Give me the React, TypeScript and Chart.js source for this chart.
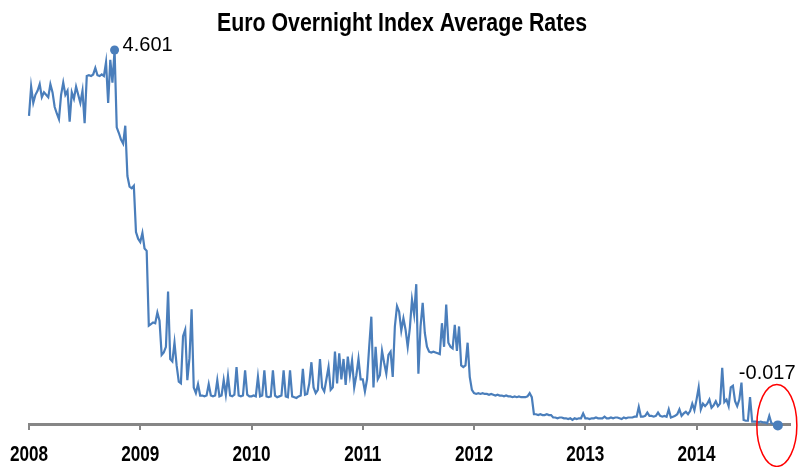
import React, { useEffect, useRef } from "react";
import { Chart, registerables } from "chart.js";

Chart.register(...registerables);

// Weekly readings of EONIA (%), one array per calendar year
const rates2008 = [
  3.79, 4.15, 3.95, 4.05, 4.10, 4.18, 4.02, 4.08, 4.05, 4.02,
  4.18, 4.08, 3.90, 3.82, 3.75, 4.05, 4.20, 4.05, 4.10, 3.72,
  4.08, 4.00, 4.15, 4.05, 3.95, 4.10, 3.70, 4.28, 4.29, 4.28,
  4.30, 4.38, 4.29, 4.28, 4.30, 4.28, 4.45, 3.95, 4.48, 4.20,
  4.601, 3.65, 3.58, 3.50, 3.45, 3.67, 3.05, 2.92, 2.90, 2.93,
  2.36, 2.28,
];
const rates2009 = [
  2.24, 2.35, 2.16, 2.13, 1.21, 1.23, 1.25, 1.24, 1.37, 1.27,
  0.85, 0.88, 0.95, 1.63, 0.80, 0.77, 1.00, 0.72, 0.52, 0.50,
  1.08, 1.16, 0.54, 0.81, 1.41, 0.45, 0.38, 0.49, 0.35, 0.35,
  0.34, 0.35, 0.49, 0.35, 0.34, 0.35, 0.54, 0.34, 0.35, 0.54,
  0.36, 0.59, 0.35, 0.34, 0.36, 0.70, 0.35, 0.34, 0.35, 0.66,
  0.36, 0.34,
];
const rates2010 = [
  0.34, 0.35, 0.34, 0.58, 0.34, 0.35, 0.66, 0.34, 0.33, 0.34,
  0.66, 0.35, 0.33, 0.34, 0.35, 0.66, 0.34, 0.33, 0.66, 0.34,
  0.33, 0.32, 0.34, 0.35, 0.68, 0.36, 0.37, 0.50, 0.76, 0.45,
  0.38, 0.42, 0.80, 0.45, 0.40, 0.55, 0.70, 0.42, 0.45, 0.89,
  0.50, 0.87, 0.55, 0.80, 0.48, 0.83, 0.60, 0.78, 0.45, 0.60,
  0.80, 0.55,
];
const rates2011 = [
  0.55, 0.40, 0.55, 0.95, 1.32, 0.45, 0.95, 0.55, 0.60, 0.90,
  0.75, 0.62, 0.85, 0.89, 0.58, 1.20, 1.45, 1.38, 1.15, 1.30,
  1.16, 0.95, 1.18, 1.53, 1.35, 1.72, 0.62, 1.20, 1.49, 1.12,
  0.95, 0.89, 0.88, 0.89, 0.88, 0.87, 0.86, 1.24, 0.95, 1.47,
  1.00, 0.95, 0.93, 1.22, 0.90, 1.20, 0.72, 0.70, 0.72, 1.00,
  0.58, 0.42,
];
const rates2012 = [
  0.38, 0.37, 0.38, 0.37, 0.38, 0.37, 0.37, 0.36, 0.37, 0.36,
  0.35, 0.36, 0.35, 0.35, 0.34, 0.35, 0.34, 0.34, 0.33, 0.34,
  0.33, 0.34, 0.33, 0.33, 0.33, 0.34, 0.38, 0.33, 0.12, 0.12,
  0.11, 0.12, 0.11, 0.11, 0.12, 0.11, 0.11, 0.08, 0.08, 0.07,
  0.08, 0.08, 0.07, 0.07, 0.06, 0.07, 0.05, 0.07, 0.06, 0.07,
  0.07, 0.13,
];
const rates2013 = [
  0.07, 0.07, 0.06, 0.07, 0.07, 0.08, 0.07, 0.07, 0.07, 0.09,
  0.07, 0.07, 0.08, 0.07, 0.08, 0.08, 0.07, 0.06, 0.08, 0.07,
  0.08, 0.08, 0.08, 0.09, 0.09, 0.21, 0.09, 0.09, 0.10, 0.14,
  0.10, 0.10, 0.09, 0.10, 0.14, 0.10, 0.09, 0.10, 0.09, 0.18,
  0.08, 0.09, 0.10, 0.12, 0.18, 0.10, 0.13, 0.15, 0.12, 0.16,
  0.25, 0.17,
];
const rates2014 = [
  0.30, 0.45, 0.18, 0.25, 0.22, 0.25, 0.30, 0.20, 0.23, 0.28,
  0.22, 0.25, 0.69, 0.27, 0.30, 0.22, 0.45, 0.47, 0.28, 0.22,
  0.30, 0.51, 0.05, 0.04, 0.04, 0.33, 0.03, 0.03, 0.03, 0.02,
  0.03, 0.02, 0.02, 0.01, 0.10, 0.01, 0.00, -0.005, -0.017,
];

const years = [2008, 2009, 2010, 2011, 2012, 2013, 2014];
const yearLabels = ["2008", "2009", "2010", "2011", "2012", "2013", "2014"];
const yearlyRates = [rates2008, rates2009, rates2010, rates2011, rates2012, rates2013, rates2014];
const WEEKS_PER_YEAR = 52;
const xMin = 2008;
const xMax = 2014.84;
const yMin = 0;
const yMax = 4.601;

const titleText = "Euro Overnight Index Average Rates";
const lineColor = "#4a7ebb";
const axisColor = "#868686";
const NARROW = 0.82; // horizontal compression to mimic a narrow face

export default function App() {
  const canvasRef = useRef<HTMLCanvasElement | null>(null);

  useEffect(() => {
    document.body.style.margin = "0";
    const points = yearlyRates.flatMap((arr, k) =>
      arr.map((v, i) => ({ x: years[k] + i / WEEKS_PER_YEAR, y: v }))
    );
    let maxIdx = 0;
    points.forEach((p, i) => {
      if (p.y > points[maxIdx].y) maxIdx = i;
    });
    const lastIdx = points.length - 1;

    const annotPlugin = {
      id: "annot",
      afterDraw(chart: any) {
        const ctx = chart.ctx;
        const meta = chart.getDatasetMeta(0);
        const pk = meta.data[maxIdx];
        const last = meta.data[lastIdx];
        const xs = chart.scales.x;
        ctx.save();
        ctx.fillStyle = "#000";

        // title (narrow bold)
        ctx.save();
        ctx.font = 'bold 26px "Liberation Sans", Arial, sans-serif';
        ctx.textAlign = "center";
        ctx.textBaseline = "alphabetic";
        ctx.translate(chart.width / 2, 31);
        ctx.scale(NARROW, 1);
        ctx.fillText(titleText, 0, 0);
        ctx.restore();

        // x tick labels (narrow bold), at the scale's tick positions
        ctx.font = 'bold 22px "Liberation Sans", Arial, sans-serif';
        ctx.textAlign = "center";
        ctx.textBaseline = "middle";
        xs.ticks.forEach((t: any) => {
          const idx = years.indexOf(Number(t.value));
          if (idx < 0) return;
          const px = xs.getPixelForValue(t.value);
          ctx.save();
          ctx.translate(px, xs.top + 31);
          ctx.scale(0.78, 1);
          ctx.fillText(yearLabels[idx], 0, 0);
          ctx.restore();
        });

        // value labels
        ctx.font = '20px "Liberation Sans", Arial, sans-serif';
        ctx.textBaseline = "middle";
        ctx.textAlign = "left";
        ctx.fillText(points[maxIdx].y.toFixed(3), pk.x + 8, pk.y - 5);
        ctx.fillText(points[lastIdx].y.toFixed(3), last.x - 39, last.y - 52);

        // red ellipse around the last value
        ctx.beginPath();
        ctx.strokeStyle = "#ff0000";
        ctx.lineWidth = 1.5;
        ctx.ellipse(last.x - 1, last.y, 20, 41, 0, 0, Math.PI * 2);
        ctx.stroke();
        ctx.restore();
      },
    };

    const chart = new Chart(canvasRef.current as HTMLCanvasElement, {
      type: "line",
      data: {
        datasets: [
          {
            data: points,
            borderColor: lineColor,
            backgroundColor: lineColor,
            borderWidth: 2.2,
            tension: 0,
            clip: false as any,
            pointRadius: (c: any) => (c.dataIndex === maxIdx ? 4.5 : c.dataIndex === lastIdx ? 5 : 0),
            pointBackgroundColor: lineColor,
            pointBorderWidth: 0,
          },
        ],
      },
      options: {
        animation: false,
        responsive: true,
        maintainAspectRatio: false,
        events: [],
        layout: { padding: { left: 29, right: 14, top: 50, bottom: 0 } },
        plugins: {
          legend: { display: false },
          tooltip: { enabled: false },
          title: { display: false },
        },
        scales: {
          x: {
            type: "linear",
            min: xMin,
            max: xMax,
            afterBuildTicks: (scale: any) => {
              scale.ticks = years.map((v) => ({ value: v }));
            },
            afterFit: (scale: any) => {
              scale.height = 43;
              scale.paddingLeft = 0;
              scale.paddingRight = 0;
            },
            ticks: {
              autoSkip: false,
              maxRotation: 0,
              color: "rgba(0,0,0,0)",
              padding: 13,
              font: { family: '"Liberation Sans", Arial, sans-serif', size: 21, weight: "bold" },
              callback: (v: any) => yearLabels[years.indexOf(Number(v))] ?? "",
            },
            grid: {
              drawOnChartArea: false,
              drawTicks: true,
              tickLength: 6,
              color: axisColor,
              lineWidth: 2,
            },
            border: { display: true, color: axisColor, width: 3 },
          },
          y: { display: false, min: yMin, max: yMax },
        },
      },
      plugins: [annotPlugin],
    });
    return () => chart.destroy();
  }, []);

  return (
    <div style={{ position: "relative", width: 804, height: 467 }}>
      <canvas ref={canvasRef} />
    </div>
  );
}
